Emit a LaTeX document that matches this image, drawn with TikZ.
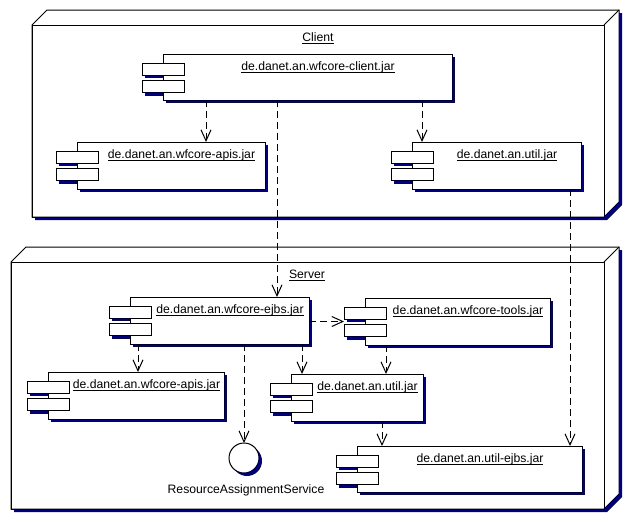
\documentclass[tikz,border=0pt]{standalone}
\usepackage{fontspec}
\setmainfont{Liberation Sans}
\usetikzlibrary{arrows.meta}
\definecolor{shad}{RGB}{0,0,128}
\newcommand\ulx[1]{\setbox0\hbox{#1}\leavevmode\rlap{\raisebox{-2.6pt}{\rule{\wd0}{0.9pt}}}\box0}
\newcommand\umlcomp[6]{%
  \fill[shad] (#2-18,#3+12) rectangle ++(42,12);
  \fill[shad] (#2-18,#3+29.5) rectangle ++(42,12);
  \fill[shad] (#2+3,#3+3) rectangle (#4+3,#5+3);
  \node[compbox, minimum width={(#4-#2)*1pt}, minimum height={(#5-#3)*1pt}] (#1) at (#2,#3) {};
  \node[partbox] (#1-a) at (#2-21,#3+9) {};
  \node[partbox] (#1-b) at (#2-21,#3+26.5) {};
  \node[lbl] (#1-t) at ({(#2+21+#4)/2},#3+16.5) {\ulx{#6}};
}
\begin{document}
\begin{tikzpicture}[x=1pt,y=-1pt,
  every node/.style={font=\fontsize{12.2}{14}\selectfont, inner sep=0pt, outer sep=0pt},
  ln/.style={line width=1pt, draw=black},
  compbox/.style={draw, fill=white, line width=1pt, anchor=north west},
  partbox/.style={draw, fill=white, line width=1pt, minimum width=42pt, minimum height=12pt, anchor=north west},
  devfront/.style={draw, line width=1pt, anchor=north west},
  dep/.style={line width=1pt, dash pattern=on 7pt off 4pt, -{Straight Barb[length=11pt,width=10pt]}},
  lbl/.style={anchor=base},
]
\useasboundingbox (0,0) rectangle (632,522);
\fill[white] (0,0) rectangle (632,522);

% x positions of connectors
\coordinate (x138) at (138,0);
\coordinate (x206) at (206,0);
\coordinate (x244) at (244,0);
\coordinate (x277) at (277,0);
\coordinate (x302) at (302,0);
\coordinate (x382) at (382,0);
\coordinate (x386) at (386,0);
\coordinate (x422) at (422,0);
\coordinate (x570) at (570,0);

% Client device
\fill[shad] (35,28) -- (50,13) -- (622,13) -- (622,205) -- (607,220) -- (35,220) -- cycle;
\filldraw[ln, fill=white] (32,25) -- (47,10) -- (619,10) -- (619,202) -- (604,217) -- (32,217) -- cycle;
\node[devfront, minimum width=572pt, minimum height=192pt] (client) at (32,25) {};
\draw[ln] (client.north east) -- (619,10);
\node[lbl] (clientlbl) at (318,41) {\ulx{Client}};

% Server device
\fill[shad] (14,265) -- (29,250) -- (622,250) -- (622,497) -- (607,512) -- (14,512) -- cycle;
\filldraw[ln, fill=white] (11,262) -- (26,247) -- (619,247) -- (619,494) -- (604,509) -- (11,509) -- cycle;
\node[devfront, minimum width=593pt, minimum height=247pt] (server) at (11,262) {};
\draw[ln] (server.north east) -- (619,247);
\node[lbl] (serverlbl) at (307,278) {\ulx{Server}};

% Components
\umlcomp{cj}{163}{54}{452}{100}{de.danet.an.wfcore-client.jar}
\umlcomp{ca}{77}{142}{265}{189}{de.danet.an.wfcore-apis.jar}
\umlcomp{cu}{412}{142}{581}{189}{de.danet.an.util.jar}
\umlcomp{se}{130}{297}{309}{344}{de.danet.an.wfcore-ejbs.jar}
\umlcomp{st}{365}{298}{550}{345}{de.danet.an.wfcore-tools.jar}
\umlcomp{sa}{48}{372}{224}{419}{de.danet.an.wfcore-apis.jar}
\umlcomp{su}{291}{374}{423}{421}{de.danet.an.util.jar}
\umlcomp{sue}{357}{446}{582}{492}{de.danet.an.util-ejbs.jar}

% Interface
\fill[shad] (247,461) circle[radius=15pt];
\node[draw, fill=white, circle, line width=1pt, minimum size=30pt] (rs) at (244,458) {};
\node[lbl] (rslbl) at (246,493) {ResourceAssignmentService};

% Dependencies
\draw[dep] (cj.south -| x206) -- (ca.north -| x206);
\draw[dep] (cj.south -| x422) -- (cu.north -| x422);
\draw[dep] (cj.south -| x277) -- (se.north -| x277);
\draw[dep] (cu.south -| x570) -- (sue.north -| x570);
\draw[dep] (se.east |- st.west) -- (st-a.west |- st.west);
\draw[dep] (se.south -| x138) -- (sa.north -| x138);
\draw[dep] (se.south -| x302) -- (su.north -| x302);
\draw[dep] (se.south -| x244) -- (rs.north);
\draw[dep] (st.south -| x386) -- (su.north -| x386);
\draw[dep] (su.south -| x382) -- (sue.north -| x382);
\end{tikzpicture}
\end{document}
